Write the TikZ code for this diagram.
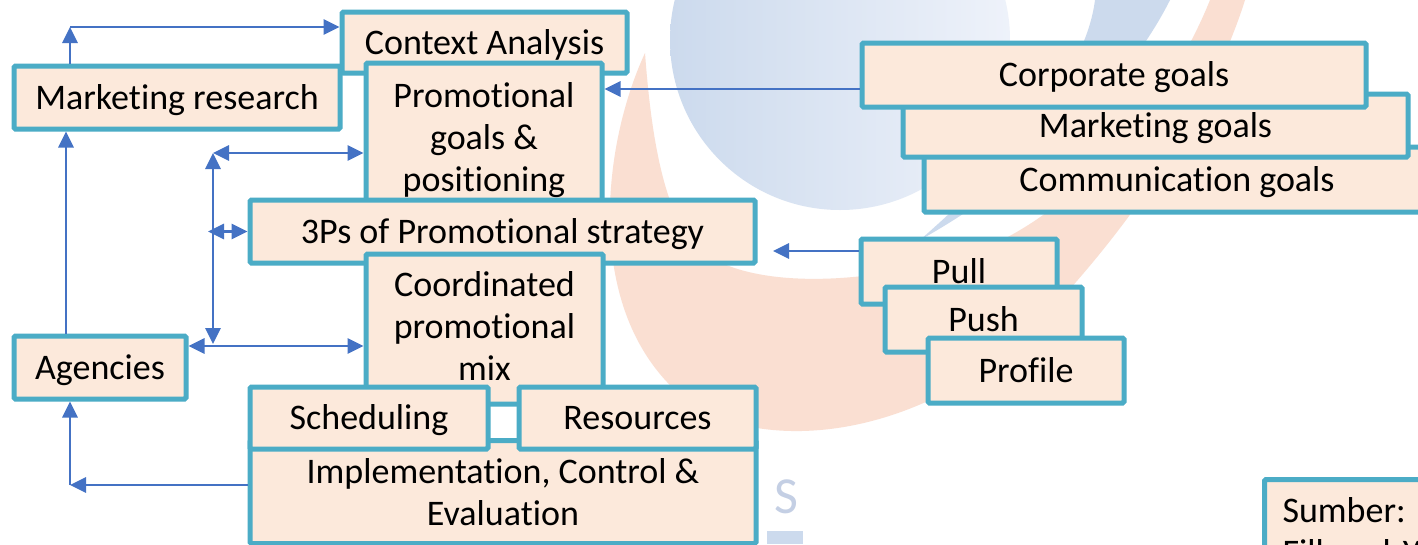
\documentclass[tikz,border=0pt]{standalone}
\usepackage{fontspec}
\setmainfont{Carlito}[RawFeature={-liga}]
\usetikzlibrary{arrows.meta}

\definecolor{boxfill}{RGB}{252,233,219}
\definecolor{boxline}{RGB}{75,172,198}
\definecolor{linkblue}{RGB}{68,114,196}
\definecolor{wmblue}{RGB}{204,218,237}
\definecolor{wmblueB}{RGB}{238,242,250}
\definecolor{wmorange}{RGB}{250,223,210}
\definecolor{wmgrey}{RGB}{196,207,228}

\tikzset{
  box/.style={draw=boxline, fill=boxfill, line width=5pt, rounded corners=1.5pt,
    inner sep=0pt, font=\fontsize{36}{42}\selectfont},
  onebox/.style={box, text height=25pt, text depth=2pt},
  multibox/.style={box, align=center},
  link/.style={draw=linkblue, line width=2.8pt, >={Triangle[length=16pt,width=15pt]}}
}

\begin{document}
\begin{tikzpicture}[x=1pt,y=-1pt]
\useasboundingbox (0,0) rectangle (1418,544);
\fill[white] (0,0) rectangle (1418,544);
\clip (0,0) rectangle (1418,544);

% faint logo behind
\shade[left color=wmblue, right color=wmblueB] (840,40) circle (170);
\fill[wmorange] (645,53) .. controls (600,150) and (580,330) .. (700,410)
  .. controls (800,460) and (960,420) .. (1060,300)
  .. controls (1160,190) and (1220,80) .. (1245,0) -- (1210,0)
  .. controls (1170,100) and (1080,210) .. (980,250)
  .. controls (860,290) and (730,290) .. (690,240)
  .. controls (660,200) and (650,120) .. (645,53) -- cycle;
\fill[wmblue] (1095,0) .. controls (1085,80) and (1000,170) .. (920,240)
  .. controls (1010,190) and (1120,100) .. (1170,0) -- cycle;
\node[text=wmgrey, font=\fontsize{52}{52}\selectfont] (wms) at (786,497) {S};
\fill[wmblue] (767,531) rectangle (803,544);

% left block
\node[onebox, minimum width=285pt, minimum height=61pt] (ca) at (484.5,42.5) {Context Analysis};
\node[onebox, minimum width=326pt, minimum height=63pt] (mr) at (177,97.5) {Marketing research};
\node[multibox, minimum width=236pt, minimum height=154pt] (pg) at (484,140) {Promotional\\goals \&\\positioning};
\node[onebox, minimum width=505pt, minimum height=63pt] (ps) at (502.5,231.5) {3Ps of Promotional strategy};
\node[multibox, minimum width=237pt, minimum height=150pt] (cm) at (484.5,329) {Coordinated\\promotional\\mix\vphantom{p}};
\node[multibox, minimum width=506pt, minimum height=103pt] (ic) at (503,492) {Implementation, Control \&\\Evaluation};
\node[onebox, minimum width=238pt, minimum height=62pt] (sc) at (369,418) {Scheduling};
\node[onebox, minimum width=237pt, minimum height=62pt] (rs) at (637.5,418) {Resources};
\node[onebox, minimum width=172pt, minimum height=63pt] (ag) at (100,367.5) {Agencies};

% goals and 3Ps
\node[onebox, minimum width=506pt, minimum height=65pt] (cog) at (1177,179.5) {Communication goals};
\node[onebox, minimum width=505pt, minimum height=63pt] (mg) at (1155.5,125.5) {Marketing goals};
\node[onebox, minimum width=504pt, minimum height=64pt] (cg) at (1114,75) {Corporate goals};
\node[onebox, minimum width=196pt, minimum height=65pt] (pl) at (959,271.5) {Pull};
\node[onebox, minimum width=197pt, minimum height=65pt] (pu) at (983.5,319.5) {Push};
\node[onebox, minimum width=196pt, minimum height=65pt] (pf) at (1026,370.5) {Profile};

\node[box, anchor=north west, align=left, text width=300pt, inner sep=18pt] (sb) at (1262,477) {Sumber:\\Fill and Yeshin};

% connectors
\coordinate (mrc) at (70,27);
\coordinate (agx) at (66,0);
\coordinate (icc) at (70,485);
\coordinate (vt) at (213,153);
\coordinate (vb) at (213,344);
\coordinate (pst) at (208,231.5);
\coordinate (agy) at (0,346);
\coordinate (cgy) at (0,89);
\coordinate (psr) at (773,251);

\draw[link,->] (mr.north -| mrc) -- (mrc);
\draw[link,->] (mrc) -- (mrc -| ca.west);
\draw[link,->] (ag.north -| agx) -- (mr.south -| agx);
\draw[link,->] (ic.west |- icc) -- (icc);
\draw[link,->] (icc) -- (icc |- ag.south);
\draw[link,<->] (vt) -- (vb);
\draw[link,<->] (vt) -- (vt -| pg.west);
\draw[link,<->] (pst) -- (ps.west);
\draw[link,<->] (ag.east |- agy) -- (cm.west |- agy);
\draw[link,->] (cg.west |- cgy) -- (pg.east |- cgy);
\draw[link,->] (pl.west |- psr) -- (psr);
\end{tikzpicture}
\end{document}
